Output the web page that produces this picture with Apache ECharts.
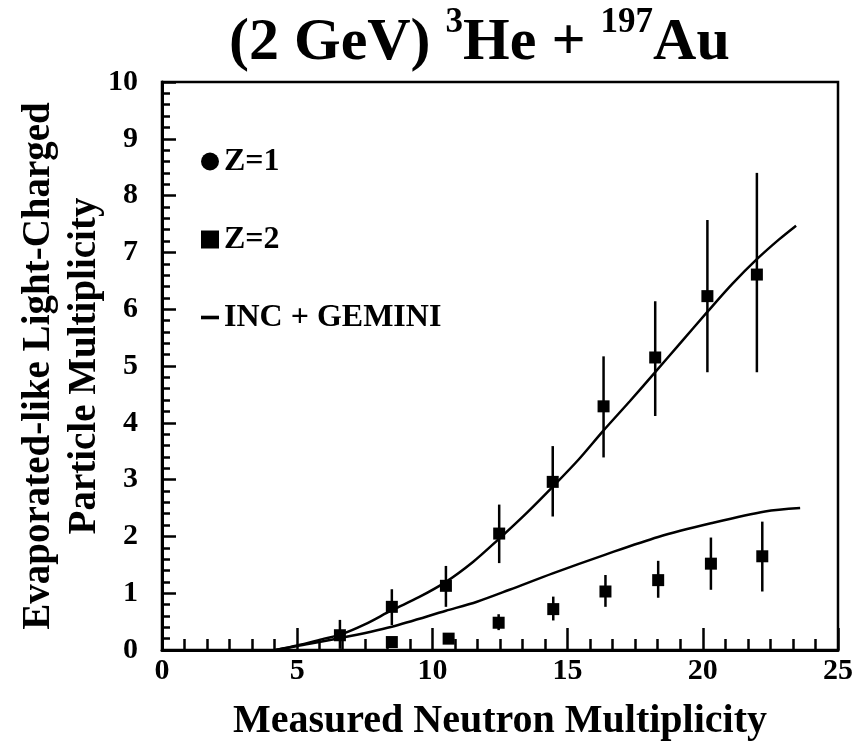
<!DOCTYPE html>
<html>
<head>
<meta charset="utf-8">
<script src="https://cdn.jsdelivr.net/npm/echarts@6/dist/echarts.min.js"></script>
<style>html,body{margin:0;padding:0;background:#fff}#c{width:859px;height:743px}</style>
</head>
<body>
<div id="c"></div>
<script>
// Z=1 data (upper points)
var z1X  = [6.58, 8.5, 10.5, 12.47, 14.45, 16.33, 18.24, 20.17, 22.0];
var z1Y  = [0.26, 0.76, 1.13, 2.05, 2.96, 4.29, 5.15, 6.23, 6.61];
var z1Hi = [0.53, 1.07, 1.48, 2.56, 3.59, 5.17, 6.14, 7.57, 8.40];
var z1Lo = [0.02, 0.44, 0.76, 1.53, 2.35, 3.39, 4.12, 4.89, 4.89];
// Z=2 data (lower points)
var z2X  = [8.5, 10.6, 12.45, 14.47, 16.4, 18.35, 20.3, 22.2];
var z2Y  = [0.14, 0.20, 0.48, 0.72, 1.03, 1.23, 1.52, 1.65];
var z2Hi = [0.14, 0.20, 0.63, 0.94, 1.32, 1.57, 1.98, 2.26];
var z2Lo = [0.14, 0.20, 0.35, 0.52, 0.76, 0.92, 1.06, 1.03];
// INC + GEMINI calculations
var gem1X = [4.2, 5, 6, 6.6, 7.5, 8.5, 9.5, 10.5, 11.5, 12.4, 13.5, 14.5, 15.4, 16.3, 17.3, 18.2, 19.2, 20.2, 21.1, 22.0, 22.8, 23.45];
var gem1Y = [0, 0.08, 0.2, 0.27, 0.45, 0.7, 0.93, 1.2, 1.55, 1.93, 2.42, 2.9, 3.35, 3.85, 4.38, 4.87, 5.42, 5.97, 6.45, 6.88, 7.22, 7.47];
var gem2X = [4.2, 5, 6.6, 8.5, 10.5, 11.65, 12.85, 14.45, 16.4, 18.35, 20.3, 22.3, 23.6];
var gem2Y = [0, 0.07, 0.21, 0.41, 0.69, 0.85, 1.06, 1.35, 1.68, 1.99, 2.23, 2.44, 2.5];
// axis ticks
var xTicks = {min: 0, max: 25, interval: 5};
var yTicks = {min: 0, max: 10, interval: 1};

function zip(a, b) { return a.map(function (v, i) { return [v, b[i]]; }); }
function zip3(a, b, c) { return a.map(function (v, i) { return [v, b[i], c[i]]; }); }

var FONT = '"Liberation Serif", "Times New Roman", serif';

function errRender(params, api) {
  var p1 = api.coord([api.value(0), api.value(1)]);
  var p2 = api.coord([api.value(0), api.value(2)]);
  return {
    type: 'line',
    shape: {x1: p1[0], y1: p1[1], x2: p2[0], y2: p2[1]},
    style: {stroke: '#000', lineWidth: 2.5}
  };
}

var chart = echarts.init(document.getElementById('c'), null, {renderer: 'canvas'});
chart.setOption({
  animation: false,
  backgroundColor: '#fff',
  title: {
    left: 224, top: 0,
    text: '{a|(2 GeV) }{s|3}{a|He + }{s|197}{a|Au}',
    textStyle: {
      rich: {
        a: {fontFamily: FONT, fontWeight: 'bold', fontSize: 60, color: '#000', lineHeight: 68, verticalAlign: 'bottom'},
        s: {fontFamily: FONT, fontWeight: 'bold', fontSize: 35, color: '#000', lineHeight: 68, verticalAlign: 'top'}
      }
    }
  },
  legend: {
    orient: 'vertical',
    left: 196, top: 140,
    itemWidth: 18, itemHeight: 18,
    itemGap: 45,
    textStyle: {fontFamily: FONT, fontWeight: 'bold', fontSize: 32, color: '#000', lineHeight: 33, padding: [0, 0, 0, 0]},
    data: [
      {name: 'Z=1', icon: 'circle'},
      {name: 'Z=2', icon: 'rect'},
      {name: 'INC + GEMINI', icon: 'path://M0,0 L12,0 L12,2.4 L0,2.4 Z'}
    ]
  },
  grid: {left: 162, right: 21, top: 82, bottom: 93, containLabel: false, outerBoundsMode: 'none',
         show: true, borderColor: '#000', borderWidth: 2.5, backgroundColor: 'transparent'},
  xAxis: {
    type: 'value', min: xTicks.min, max: xTicks.max, interval: xTicks.interval,
    axisLine: {lineStyle: {color: '#000', width: 3}},
    axisTick: {inside: true, length: 22, lineStyle: {color: '#000', width: 2.5}},
    minorTick: {show: true, splitNumber: 6, length: 11, lineStyle: {color: '#000', width: 2.5}},
    splitLine: {show: false},
    axisLabel: {fontFamily: FONT, fontWeight: 'bold', fontSize: 30, color: '#000', margin: 6},
    name: 'Measured Neutron Multiplicity',
    nameLocation: 'middle', nameGap: 52, nameMoveOverlap: false,
    nameTextStyle: {fontFamily: FONT, fontWeight: 'bold', fontSize: 40, color: '#000'}
  },
  yAxis: {
    type: 'value', min: yTicks.min, max: yTicks.max, interval: yTicks.interval,
    axisLine: {lineStyle: {color: '#000', width: 3}},
    axisTick: {inside: true, length: 14, lineStyle: {color: '#000', width: 2.5}},
    minorTick: {show: true, splitNumber: 5, length: 8, lineStyle: {color: '#000', width: 2.5}},
    splitLine: {show: false},
    axisLabel: {fontFamily: FONT, fontWeight: 'bold', fontSize: 30, color: '#000', margin: 24},
    name: 'Evaporated-like Light-Charged\nParticle Multiplicity',
    nameLocation: 'middle', nameGap: 54, nameRotate: 90, nameMoveOverlap: false,
    nameTextStyle: {fontFamily: FONT, fontWeight: 'bold', fontSize: 39, color: '#000', lineHeight: 46}
  },
  series: [
    {name: 'INC + GEMINI', type: 'line', smooth: 0.3, showSymbol: false, data: zip(gem1X, gem1Y),
     lineStyle: {color: '#000', width: 2.5}, itemStyle: {color: '#000'}, z: 2},
    {name: 'INC + GEMINI', type: 'line', smooth: 0.3, showSymbol: false, data: zip(gem2X, gem2Y),
     lineStyle: {color: '#000', width: 2.5}, itemStyle: {color: '#000'}, z: 2},
    {name: 'Z=1 err', type: 'custom', renderItem: errRender, data: zip3(z1X, z1Lo, z1Hi), z: 3},
    {name: 'Z=2 err', type: 'custom', renderItem: errRender, data: zip3(z2X, z2Lo, z2Hi), z: 3},
    {name: 'Z=1', type: 'scatter', symbol: 'rect', symbolSize: 12, data: zip(z1X, z1Y), itemStyle: {color: '#000', opacity: 1}, z: 4},
    {name: 'Z=2', type: 'scatter', symbol: 'rect', symbolSize: 12, data: zip(z2X, z2Y), itemStyle: {color: '#000', opacity: 1}, z: 4}
  ]
});
</script>
</body>
</html>
